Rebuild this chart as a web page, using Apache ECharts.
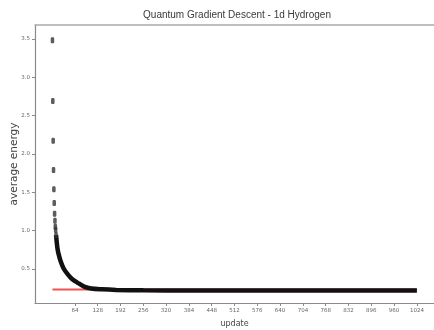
<!DOCTYPE html>
<html>
<head>
<meta charset="utf-8">
<script src="https://cdn.jsdelivr.net/npm/echarts@6/dist/echarts.min.js"></script>
<style>html,body{margin:0;padding:0;background:#fff;}#c{width:434px;height:330px;}</style>
</head>
<body>
<div id="c"></div>
<script>
// Early, individually visible updates (scatter markers)
var earlyUpdates = [1, 2, 3, 4, 5, 6, 7, 8, 9, 10, 11];
var earlyEnergy  = [3.48, 2.69, 2.17, 1.79, 1.54, 1.36, 1.22, 1.13, 1.05, 1.01, 0.944];
// Dense tail of the descent (markers merge into a thick band)
var tailUpdates = [11, 12, 13, 15, 18, 24, 32, 44, 56, 72, 90, 110, 140, 180, 256, 384, 512, 768, 1024];
var tailEnergy  = [0.944, 0.90, 0.85, 0.77, 0.70, 0.60, 0.51, 0.43, 0.37, 0.32, 0.27, 0.245, 0.235, 0.228, 0.222, 0.220, 0.219, 0.219, 0.219];
// Exact ground-state reference line
var exactUpdates = [1, 1024];
var exactEnergy = 0.233;
// Tick labels
var xTicks = [64, 128, 192, 256, 320, 384, 448, 512, 576, 640, 704, 768, 832, 896, 960, 1024];
var yTicks = [0.5, 1.0, 1.5, 2.0, 2.5, 3.0, 3.5];

function pairs(xs, ys) { return xs.map(function (x, i) { return [x, ys[i]]; }); }

var chart = echarts.init(document.getElementById('c'), null, {renderer: 'canvas'});
var axisGray = '#8a8a8a';
chart.setOption({
  animation: false,
  backgroundColor: '#fff',
  grid: {left: 35, right: 0, top: 25, bottom: 27, containLabel: false, outerBoundsMode: 'none'},
  graphic: [{
    type: 'text', x: 237, y: 15,
    style: {text: 'Quantum Gradient Descent - 1d Hydrogen', fill: '#3a3a3a',
      font: '10px "Liberation Sans"', textAlign: 'center', textVerticalAlign: 'middle'}
  }],
  xAxis: [{
    type: 'value', min: -48, max: 1072,
    name: 'update', nameLocation: 'middle', nameGap: 17, nameMoveOverlap: false,
    nameTextStyle: {color: '#444', fontSize: 8, fontFamily: 'DejaVu Sans'},
    axisLine: {show: true, onZero: false, lineStyle: {color: axisGray, width: 1.2}},
    axisTick: {show: true, length: 3, customValues: xTicks, lineStyle: {color: axisGray}},
    axisLabel: {show: true, customValues: xTicks, fontSize: 5.5, color: '#666', margin: 5, fontFamily: 'DejaVu Sans',
      formatter: function (v) { return String(v); }},
    splitLine: {show: false}
  }, {
    type: 'value', position: 'top', min: -48, max: 1072,
    axisLine: {show: true, onZero: false, lineStyle: {color: '#aaa', width: 1.5}},
    axisTick: {show: false}, axisLabel: {show: false}, splitLine: {show: false}
  }],
  yAxis: {
    type: 'value', min: 0.057, max: 3.68,
    name: 'average energy', nameLocation: 'middle', nameGap: 15, nameMoveOverlap: false,
    nameTextStyle: {color: '#444', fontSize: 10.5, fontFamily: 'DejaVu Sans'},
    axisLine: {show: true, onZero: false, lineStyle: {color: axisGray, width: 1.2}},
    axisTick: {show: true, length: 3, customValues: yTicks, lineStyle: {color: axisGray}},
    axisLabel: {show: true, customValues: yTicks, fontSize: 5.5, color: '#666', margin: 5, fontFamily: 'DejaVu Sans',
      formatter: function (v) { return v.toFixed(1); }},
    splitLine: {show: false}
  },
  series: [{
    type: 'line', data: exactUpdates.map(function (u) { return [u, exactEnergy]; }),
    showSymbol: false, lineStyle: {color: '#f05555', width: 2}, z: 1
  }, {
    type: 'line', data: pairs(tailUpdates, tailEnergy), showSymbol: false,
    smooth: 0.3, lineStyle: {color: '#111', width: 4.5}, z: 2
  }, {
    type: 'scatter', data: pairs(earlyUpdates, earlyEnergy),
    symbol: 'roundRect', symbolSize: [3.5, 6], itemStyle: {color: '#333'}, z: 3
  }]
});
</script>
</body>
</html>
